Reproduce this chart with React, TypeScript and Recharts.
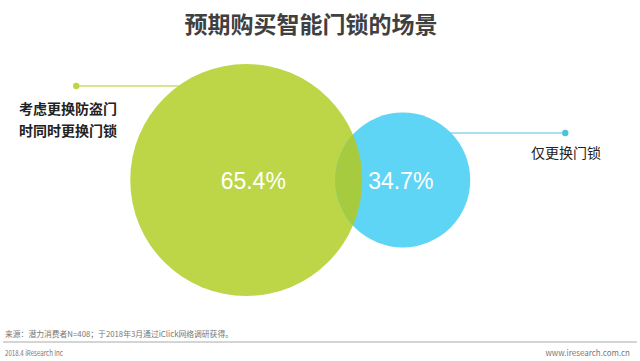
import React from 'react';
import { ScatterChart, Scatter, XAxis, YAxis, ZAxis } from 'recharts';

const names = ['考虑更换防盗门时同时更换门锁', '仅更换门锁'];
const values = [65.4, 34.7];
const labelLines = [['考虑更换防盗门', '时同时更换门锁'], ['仅更换门锁']];
const titleText = '预期购买智能门锁的场景';
const sourceText = '来源：潜力消费者N=408；于2018年3月通过iClick网络调研获得。';
const footerLeft = '2018.4 iResearch Inc';
const footerRight = 'www.iresearch.com.cn';

const table = names.map((n, i) => ({ name: n, value: values[i], row: 0, lines: labelLines[i] }));

const GREEN = '#bcd648';
const BLUE = '#5fd5f5';
const OVERLAP = '#a6cb3e';
const CJK = '"Noto Sans CJK SC", "Noto Sans", sans-serif';

const BubbleShape = (props: any) => {
  const { cx, cy, size, payload } = props;
  const r = Math.sqrt(Math.max(size, 0) / Math.PI);
  if (payload.name === names[0]) {
    const ly = cy - 94;
    return (
      <g>
        <defs>
          <clipPath id="greenClip">
            <circle cx={cx} cy={cy} r={r} />
          </clipPath>
        </defs>
        <line x1={cx - 170} y1={ly} x2={cx} y2={ly} stroke="#c6de6e" strokeWidth={1.5} />
        <circle cx={cx - 170} cy={ly} r={3.2} fill={GREEN} />
        {payload.lines.map((t: string, i: number) => (
          <text key={i} x={19} y={cy - 72.5 + i * 22} dominantBaseline="central" fontFamily={CJK} fontWeight={700} fontSize={14} fill="#222">
            {t}
          </text>
        ))}
        <circle cx={cx} cy={cy} r={r} fill={GREEN} />
      </g>
    );
  }
  const ly = cy - 47;
  return (
    <g>
      <line x1={cx} y1={ly} x2={cx + 162.5} y2={ly} stroke="#52c6de" strokeWidth={1.2} />
      <circle cx={cx + 162.5} cy={ly} r={3.2} fill="#4cc3dd" />
      {payload.lines.map((t: string, i: number) => (
        <text key={i} x={531} y={cy - 28 + i * 22} dominantBaseline="central" fontFamily={CJK} fontSize={14} fill="#222">
          {t}
        </text>
      ))}
      <circle cx={cx} cy={cy} r={r} fill={BLUE} />
    </g>
  );
};

const OverlapShape = (props: any) => {
  const { cx, cy, size, payload } = props;
  const r = Math.sqrt(Math.max(size, 0) / Math.PI);
  const isFirst = payload.name === names[0];
  return (
    <g>
      {!isFirst && <circle cx={cx} cy={cy} r={r} fill={OVERLAP} clipPath="url(#greenClip)" />}
      <text
        x={cx + (isFirst ? 7 : -2)}
        y={cy + 1}
        textAnchor="middle"
        dominantBaseline="central"
        fontFamily='"Liberation Sans", Arial, sans-serif'
        fontSize={23}
        fill="#ffffff"
      >
        {payload.value.toFixed(1)}%
      </text>
    </g>
  );
};

export default function App() {
  return (
    <div style={{ position: 'absolute', left: 0, top: 0, width: 640, height: 361, background: '#fff' }}>
      <ScatterChart width={640} height={361} margin={{ top: 0, right: 159, bottom: 1, left: 168 }}>
        <XAxis type="category" dataKey="name" hide allowDuplicatedCategory={false} />
        <YAxis type="number" dataKey="row" domain={[-1, 1]} hide />
        <ZAxis type="number" dataKey="value" domain={[34.7, 65.4]} range={[Math.PI * 67.5 * 67.5, Math.PI * 116 * 116]} />
        <Scatter data={table} shape={BubbleShape} isAnimationActive={false} />
        <Scatter data={table} shape={OverlapShape} isAnimationActive={false} />
        <text x={311} y={23} textAnchor="middle" dominantBaseline="central" fontFamily={CJK} fontWeight={700} fontSize={23} fill="#404040">
          {titleText}
        </text>
        <text x={5} y={333} dominantBaseline="central" fontFamily={CJK} fontSize={8} fill="#777" textLength={228} lengthAdjust="spacingAndGlyphs">
          {sourceText}
        </text>
        <line x1={3} y1={342} x2={637} y2={342} stroke="#aaaaaa" strokeWidth={1} />
        <text x={5} y={352.5} dominantBaseline="central" fontFamily={CJK} fontSize={8} fill="#777" textLength={58} lengthAdjust="spacingAndGlyphs">
          {footerLeft}
        </text>
        <text x={630} y={352.5} textAnchor="end" dominantBaseline="central" fontFamily={CJK} fontSize={8} fill="#777">
          {footerRight}
        </text>
      </ScatterChart>
    </div>
  );
}
